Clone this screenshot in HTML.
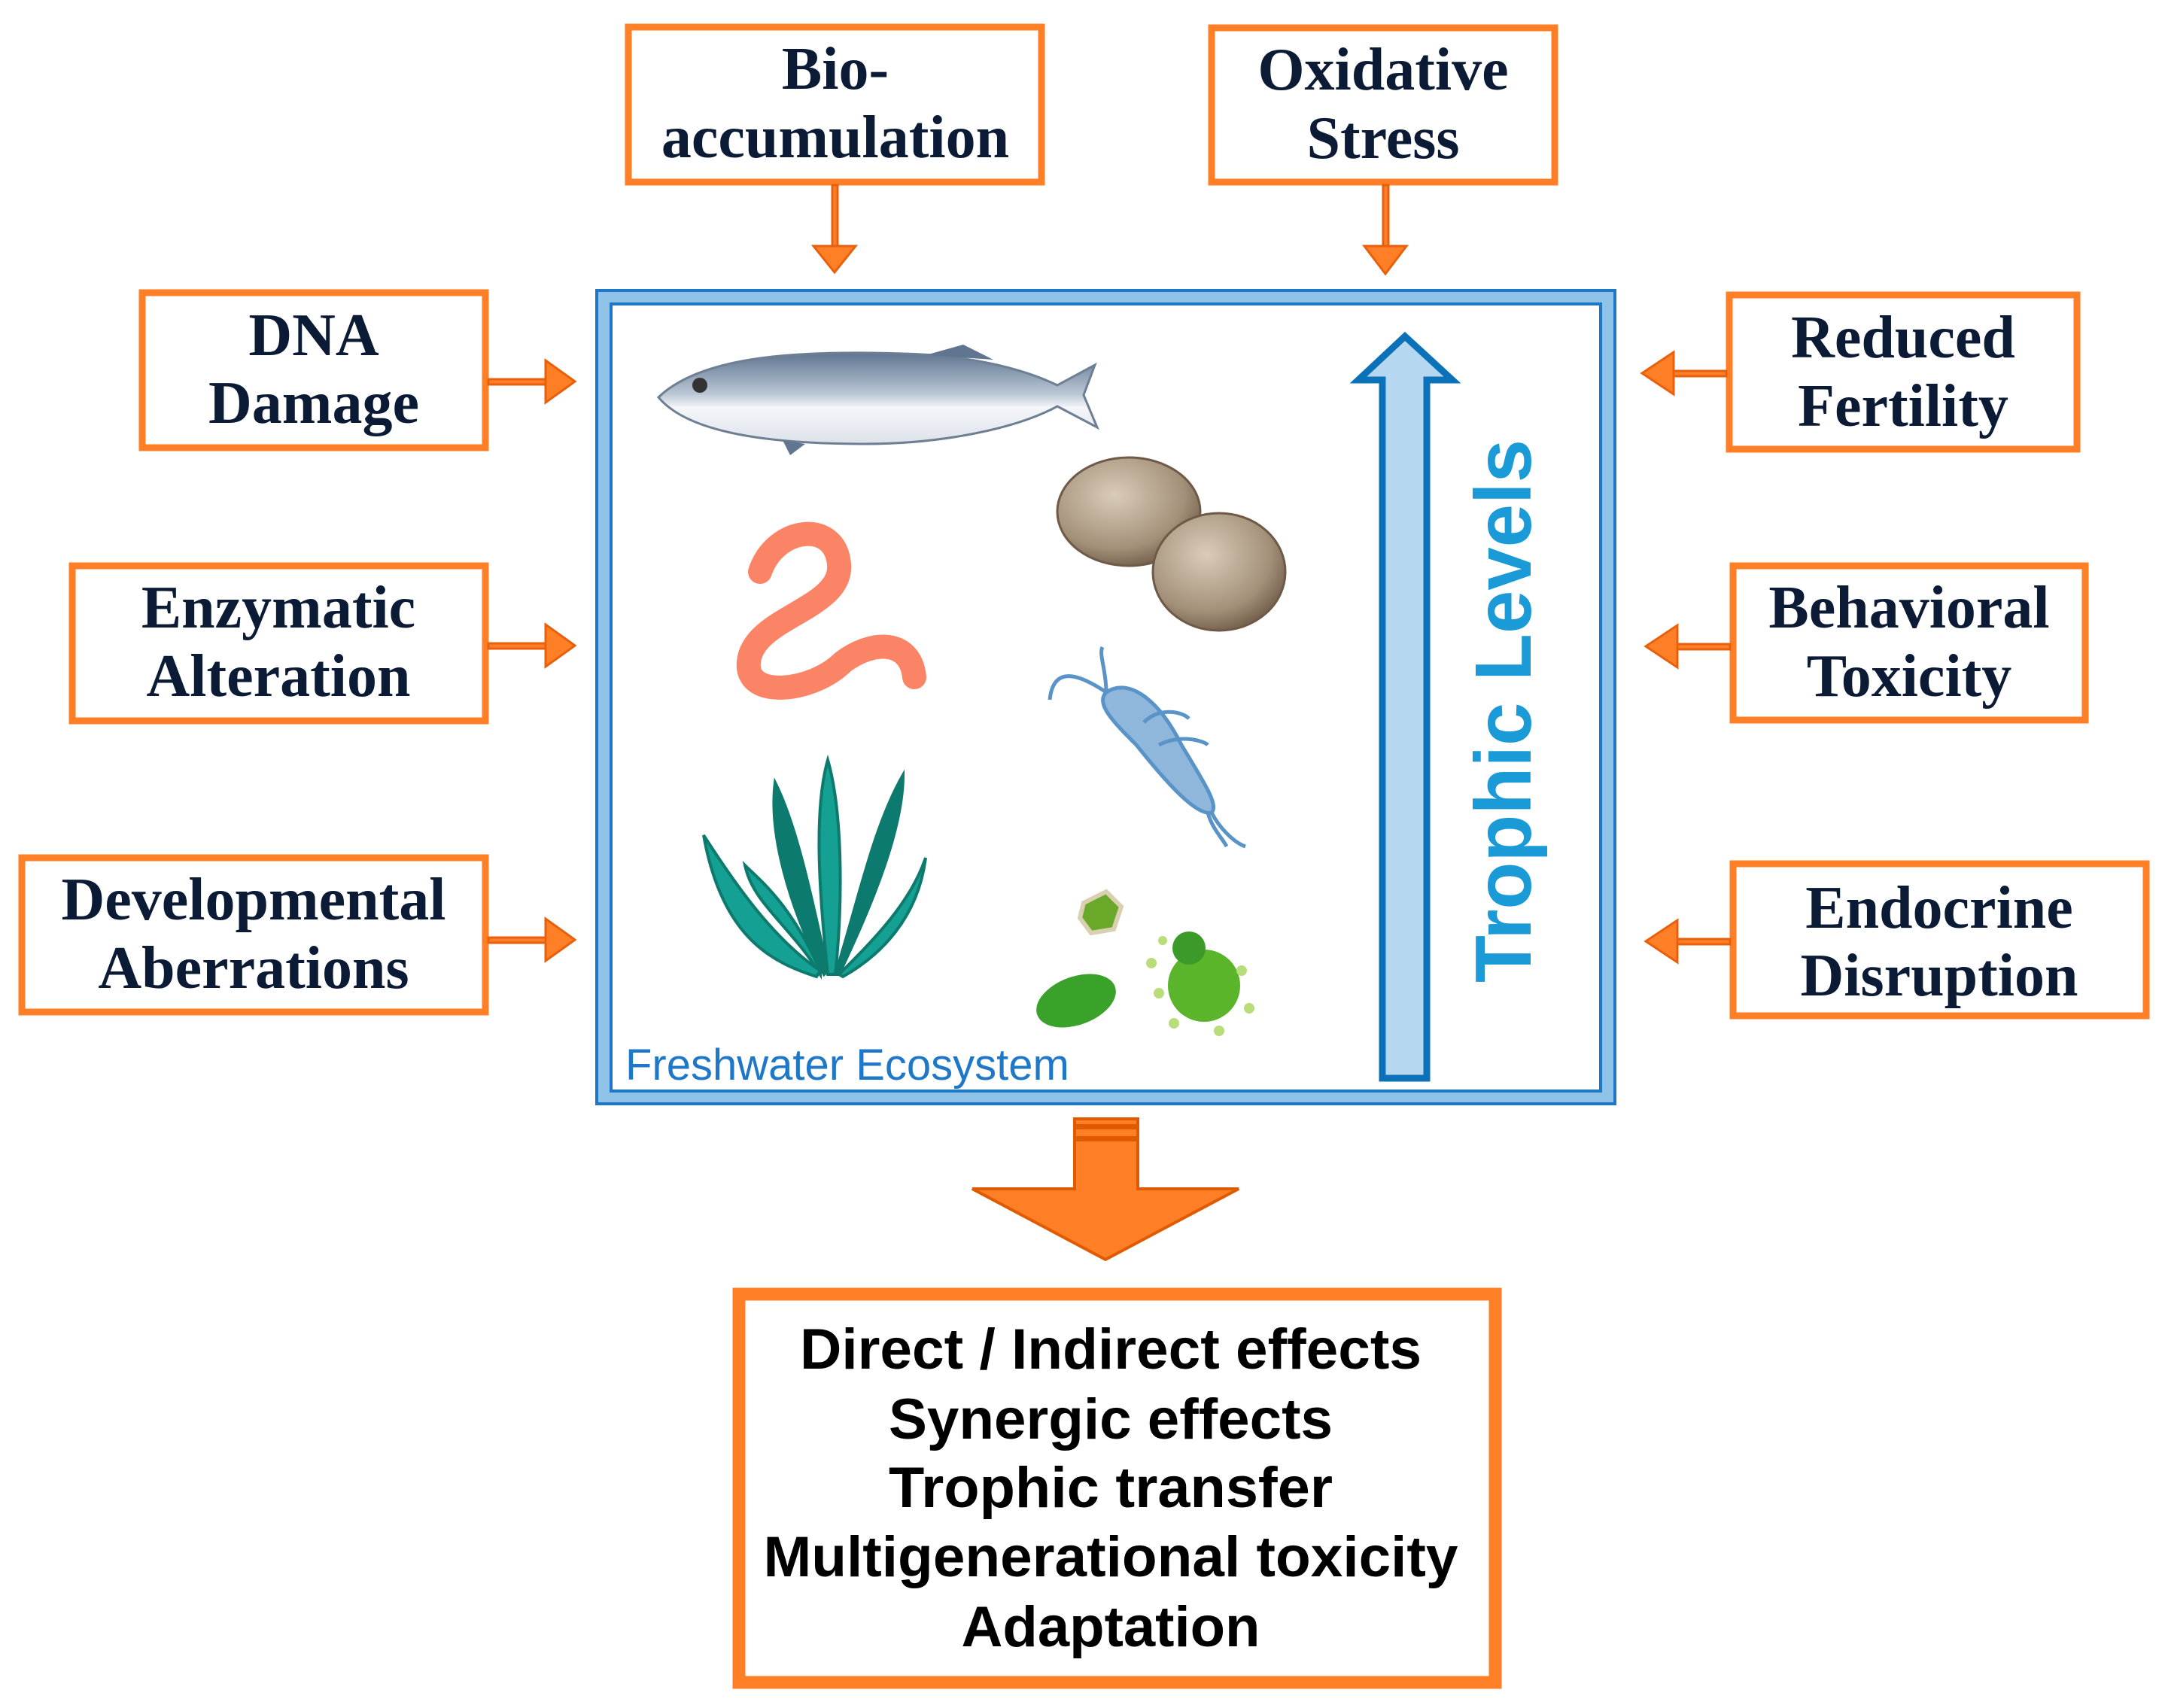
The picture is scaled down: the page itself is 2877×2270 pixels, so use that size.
<!DOCTYPE html>
<html><head><meta charset="utf-8"><style>
html,body{margin:0;padding:0;background:#fff;}
svg{display:block;}
.b{font-family:"Liberation Serif",serif;font-weight:bold;font-size:80px;fill:#0b1a35;text-anchor:middle;}
.r{font-family:"Liberation Sans",sans-serif;font-weight:bold;font-size:76px;fill:#000;text-anchor:middle;}
</style></head><body>
<svg width="2877" height="2270" viewBox="0 0 2877 2270" xmlns="http://www.w3.org/2000/svg">
<defs>
<linearGradient id="fishg" x1="0" y1="0" x2="0" y2="1"><stop offset="0" stop-color="#5f7590"/><stop offset="0.45" stop-color="#b9c6d4"/><stop offset="0.6" stop-color="#f4f6f9"/><stop offset="1" stop-color="#dde2ea"/></linearGradient>
<radialGradient id="clam" cx="0.4" cy="0.35" r="0.7"><stop offset="0" stop-color="#d9ccb8"/><stop offset="0.7" stop-color="#a39079"/><stop offset="1" stop-color="#6e5a47"/></radialGradient>
</defs>
<g fill="none" stroke="#ff7f27" stroke-width="9">
<rect x="835" y="36" width="549" height="206"/>
<rect x="1610" y="37" width="456" height="205"/>
<rect x="189" y="389" width="456" height="206"/>
<rect x="96" y="752" width="549" height="206"/>
<rect x="29" y="1140" width="616" height="205"/>
<rect x="2298" y="392" width="462" height="205"/>
<rect x="2303" y="752" width="468" height="205"/>
<rect x="2303" y="1148" width="549" height="202"/>
</g>
<text class="b" x="1110" y="118">Bio-</text>
<text class="b" x="1110" y="209">accumulation</text>
<text class="b" x="1838" y="119">Oxidative</text>
<text class="b" x="1838" y="210">Stress</text>
<text class="b" x="417" y="472">DNA</text>
<text class="b" x="417" y="562">Damage</text>
<text class="b" x="370" y="834">Enzymatic</text>
<text class="b" x="370" y="925">Alteration</text>
<text class="b" x="337" y="1222">Developmental</text>
<text class="b" x="337" y="1313">Aberrations</text>
<text class="b" x="2529" y="475">Reduced</text>
<text class="b" x="2529" y="566">Fertility</text>
<text class="b" x="2537" y="834">Behavioral</text>
<text class="b" x="2537" y="925">Toxicity</text>
<text class="b" x="2577" y="1233">Endocrine</text>
<text class="b" x="2577" y="1323">Disruption</text>
<g fill="#ff7f27" stroke="#e8600c" stroke-width="3">
<rect x="1106" y="246" width="7" height="82"/><polygon points="1081,327 1137,327 1109,362"/>
<rect x="1838" y="246" width="7" height="82"/><polygon points="1813,327 1869,327 1841,364"/>
<rect x="649" y="504" width="78" height="7"/><polygon points="725,479 725,535 764,507"/>
<rect x="649" y="855" width="78" height="7"/><polygon points="725,830 725,886 764,858"/>
<rect x="649" y="1246" width="78" height="7"/><polygon points="725,1221 725,1277 764,1249"/>
<rect x="2222" y="493" width="72" height="7"/><polygon points="2224,468 2224,524 2182,496"/>
<rect x="2227" y="856" width="72" height="7"/><polygon points="2229,831 2229,887 2187,859"/>
<rect x="2227" y="1248" width="72" height="7"/><polygon points="2229,1223 2229,1279 2187,1251"/>
</g>
<rect x="793" y="386" width="1353" height="1081" fill="#8fc3e8" stroke="#1f77c8" stroke-width="4"/>
<rect x="812" y="404" width="1315" height="1046" fill="#fff" stroke="#1f77c8" stroke-width="4"/>
<text x="831" y="1435" font-family="Liberation Sans,sans-serif" font-size="58" fill="#1f77c8">Freshwater Ecosystem</text>
<polygon points="1867,447 1930,505 1896,505 1896,1433 1837,1433 1837,505 1805,505" fill="#b5d8f0" stroke="#0b72b9" stroke-width="9" stroke-linejoin="miter"/>
<text transform="translate(2034,1306) rotate(-90)" font-family="Liberation Sans,sans-serif" font-weight="bold" font-size="106" fill="#1a9ad6" textLength="722" lengthAdjust="spacingAndGlyphs">Trophic Levels</text>
<path d="M875,528 C930,475 1050,465 1200,470 C1300,472 1370,495 1405,512 L1455,485 L1440,525 L1458,568 L1405,540 C1350,570 1250,590 1150,590 C1000,590 910,570 875,528 Z" fill="url(#fishg)" stroke="#6f7f93" stroke-width="3"/>
<path d="M1230,472 L1280,458 L1320,478 Z M1040,585 L1050,605 L1070,590 Z" fill="#5f7590"/>
<circle cx="930" cy="512" r="10" fill="#333"/>
<path d="M1010,760 C1030,700 1110,690 1115,750 C1120,810 1000,820 995,880 C990,930 1080,920 1120,880 C1160,850 1210,850 1215,900" fill="none" stroke="#fb8466" stroke-width="32" stroke-linecap="round"/>
<g fill="#14a093" stroke="#0e7a6e" stroke-width="4">
<path d="M1090,1295 C1050,1230 1000,1200 990,1150 C1010,1170 1050,1200 1090,1290 Z"/>
<path d="M1095,1295 C1060,1230 1020,1120 1030,1040 C1060,1100 1080,1200 1100,1290 Z" fill="#0d7a6f"/>
<path d="M1100,1295 C1090,1200 1080,1080 1100,1010 C1120,1080 1120,1200 1110,1295 Z"/>
<path d="M1110,1295 C1140,1200 1160,1100 1200,1030 C1200,1110 1150,1220 1115,1295 Z" fill="#0d7a6f"/>
<path d="M1115,1295 C1160,1250 1210,1200 1230,1140 C1220,1220 1170,1270 1120,1298 Z"/>
<path d="M1085,1298 C1030,1280 960,1250 935,1110 C980,1180 1030,1250 1090,1290 Z"/>
</g>
<ellipse cx="1500" cy="680" rx="95" ry="72" fill="url(#clam)" stroke="#6e5a47" stroke-width="3"/>
<ellipse cx="1620" cy="760" rx="88" ry="78" fill="url(#clam)" stroke="#6e5a47" stroke-width="3"/>
<g fill="#8fb7dc" stroke="#5a93c8" stroke-width="5">
<path d="M1470,920 C1500,900 1540,930 1570,990 C1600,1040 1620,1070 1610,1080 C1590,1085 1550,1040 1510,990 C1480,960 1455,935 1470,920 Z"/>
</g>
<path d="M1470,920 C1440,900 1400,880 1395,930 M1470,920 C1470,890 1460,870 1465,860 M1610,1080 C1620,1100 1640,1120 1655,1125 M1605,1080 C1610,1100 1625,1115 1630,1125 M1520,960 C1540,940 1570,945 1580,955 M1540,990 C1570,975 1600,985 1605,990" fill="none" stroke="#5a93c8" stroke-width="5"/>
<path d="M1440,1200 L1470,1185 L1490,1205 L1480,1235 L1450,1240 L1435,1220 Z" fill="#6aa82a" stroke="#d8d0b0" stroke-width="6"/>
<ellipse cx="1430" cy="1330" rx="55" ry="32" fill="#3aa22a" transform="rotate(-20 1430 1330)"/>
<circle cx="1600" cy="1310" r="48" fill="#5ab52a"/>
<circle cx="1580" cy="1260" r="22" fill="#3c9a2a"/>
<g fill="#b9dd7a"><circle cx="1530" cy="1280" r="7"/><circle cx="1540" cy="1320" r="7"/><circle cx="1560" cy="1360" r="7"/><circle cx="1650" cy="1290" r="7"/><circle cx="1660" cy="1340" r="7"/><circle cx="1620" cy="1370" r="7"/><circle cx="1545" cy="1250" r="6"/></g>
<g fill="#ff7f27" stroke="#e05a00" stroke-width="4">
<rect x="1428" y="1487" width="84" height="9"/>
<rect x="1428" y="1499" width="84" height="13"/>
<polygon points="1428,1515 1512,1515 1512,1580 1646,1580 1469,1674 1292,1580 1428,1580"/>
</g>
<rect x="982" y="1720" width="1005" height="516" fill="none" stroke="#ff7f27" stroke-width="17"/>
<text class="r" x="1476" y="1819" textLength="826" lengthAdjust="spacingAndGlyphs">Direct / Indirect effects</text>
<text class="r" x="1476" y="1912" textLength="590" lengthAdjust="spacingAndGlyphs">Synergic effects</text>
<text class="r" x="1476" y="2003" textLength="590" lengthAdjust="spacingAndGlyphs">Trophic transfer</text>
<text class="r" x="1476" y="2095" textLength="923" lengthAdjust="spacingAndGlyphs">Multigenerational toxicity</text>
<text class="r" x="1476" y="2188" textLength="397" lengthAdjust="spacingAndGlyphs">Adaptation</text>
</svg>
</body></html>
